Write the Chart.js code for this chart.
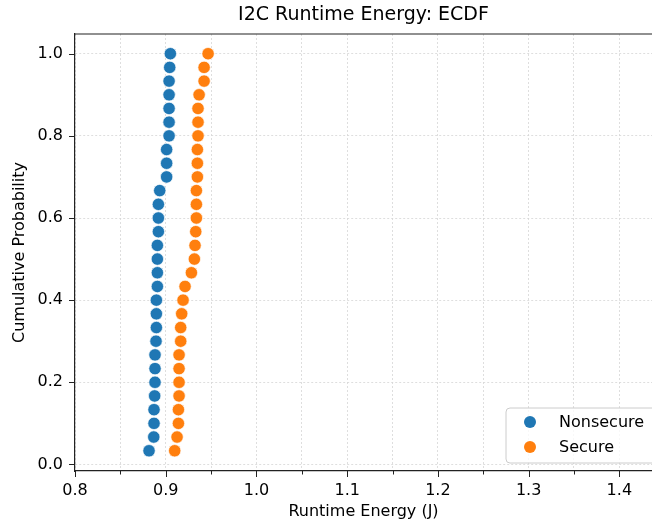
<!DOCTYPE html>
<html>
<head>
<meta charset="utf-8">
<script src="https://cdn.jsdelivr.net/npm/chart.js@4.4.1/dist/chart.umd.min.js"></script>
<style>html,body{margin:0;padding:0;background:#fff;}canvas{display:block;}</style>
</head>
<body>
<canvas id="c" width="652" height="524" style="width:652px;height:524px"></canvas>
<script>
const seriesNames = ['Nonsecure', 'Secure'];
const seriesColors = ['#1f77b4', '#ff7f0e'];
const cumulativeProbability = [
  0.0333, 0.0667, 0.1000, 0.1333, 0.1667, 0.2000, 0.2333, 0.2667, 0.3000, 0.3333,
  0.3667, 0.4000, 0.4333, 0.4667, 0.5000, 0.5333, 0.5667, 0.6000, 0.6333, 0.6667,
  0.7000, 0.7333, 0.7667, 0.8000, 0.8333, 0.8667, 0.9000, 0.9333, 0.9667, 1.0000
];
const nonsecureEnergy = [
  0.8816, 0.8868, 0.8871, 0.8871, 0.8878, 0.8882, 0.8882, 0.8882, 0.8893, 0.8897,
  0.8897, 0.8897, 0.8908, 0.8908, 0.8908, 0.8908, 0.8919, 0.8919, 0.8919, 0.8934,
  0.9010, 0.9010, 0.9010, 0.9037, 0.9037, 0.9037, 0.9037, 0.9037, 0.9044, 0.9051
];
const secureEnergy = [
  0.9099, 0.9125, 0.9140, 0.9140, 0.9147, 0.9147, 0.9147, 0.9147, 0.9165, 0.9165,
  0.9176, 0.9191, 0.9213, 0.9283, 0.9316, 0.9323, 0.9331, 0.9338, 0.9338, 0.9338,
  0.9349, 0.9349, 0.9349, 0.9356, 0.9356, 0.9356, 0.9368, 0.9423, 0.9423, 0.9467
];
const xMajorTicks = [0.8, 0.9, 1.0, 1.1, 1.2, 1.3, 1.4];
const xMinorTicks = [0.85, 0.95, 1.05, 1.15, 1.25, 1.35];
const yTicks = [0.0, 0.2, 0.4, 0.6, 0.8, 1.0];

const FONT = "'DejaVu Sans', 'Liberation Sans', sans-serif";
const xAllTicks = xMajorTicks.concat(xMinorTicks).sort((a, b) => a - b);
const isMajor = v => xMajorTicks.some(m => Math.abs(m - v) < 1e-9);

function toPoints(xs) { return xs.map((v, i) => ({ x: v, y: cumulativeProbability[i] })); }

const chromePlugin = {
  id: 'chrome',
  afterDraw(chart) {
    const { ctx, chartArea: a, scales: { x, y } } = chart;
    ctx.save();
    // top spine
    ctx.strokeStyle = '#222';
    ctx.lineWidth = 1.2;
    ctx.beginPath();
    ctx.moveTo(a.left, a.top);
    ctx.lineTo(a.right + 2, a.top);
    ctx.stroke();
    // tick marks
    ctx.lineWidth = 1;
    ctx.beginPath();
    xAllTicks.forEach(v => {
      const p = Math.round(x.getPixelForValue(v)) + 0.5;
      ctx.moveTo(p, a.bottom);
      ctx.lineTo(p, a.bottom + (isMajor(v) ? 6 : 3.5));
    });
    yTicks.forEach(v => {
      const p = Math.round(y.getPixelForValue(v)) + 0.5;
      ctx.moveTo(a.left, p);
      ctx.lineTo(a.left - 6, p);
    });
    ctx.stroke();
    // legend (inside lower right)
    const lx = 506, ly = 408, lw = 170, lh = 55, r = 4;
    ctx.beginPath();
    ctx.moveTo(lx + r, ly);
    ctx.lineTo(lx + lw - r, ly);
    ctx.arcTo(lx + lw, ly, lx + lw, ly + r, r);
    ctx.lineTo(lx + lw, ly + lh - r);
    ctx.arcTo(lx + lw, ly + lh, lx + lw - r, ly + lh, r);
    ctx.lineTo(lx + r, ly + lh);
    ctx.arcTo(lx, ly + lh, lx, ly + lh - r, r);
    ctx.lineTo(lx, ly + r);
    ctx.arcTo(lx, ly, lx + r, ly, r);
    ctx.closePath();
    ctx.fillStyle = 'rgba(255,255,255,0.8)';
    ctx.fill();
    ctx.strokeStyle = '#cccccc';
    ctx.lineWidth = 1;
    ctx.stroke();
    chart.data.datasets.forEach((ds, i) => {
      const cy = 422 + i * 25;
      ctx.beginPath();
      ctx.arc(530, cy, 6, 0, Math.PI * 2);
      ctx.fillStyle = ds.backgroundColor;
      ctx.fill();
      ctx.fillStyle = '#000';
      ctx.font = '16px ' + FONT;
      ctx.textAlign = 'left';
      ctx.textBaseline = 'middle';
      ctx.fillText(ds.label, 559, cy + 1);
    });
    ctx.restore();
  }
};

new Chart(document.getElementById('c'), {
  type: 'scatter',
  data: {
    datasets: [
      { label: seriesNames[0], data: toPoints(nonsecureEnergy), backgroundColor: seriesColors[0],
        borderColor: 'rgba(255,255,255,0.9)', borderWidth: 0.75, pointRadius: 6.2, pointHoverRadius: 6.2 },
      { label: seriesNames[1], data: toPoints(secureEnergy), backgroundColor: seriesColors[1],
        borderColor: 'rgba(255,255,255,0.9)', borderWidth: 0.75, pointRadius: 6.2, pointHoverRadius: 6.2 }
    ]
  },
  options: {
    responsive: false,
    animation: false,
    devicePixelRatio: 1,
    layout: { padding: 0, autoPadding: false },
    plugins: {
      legend: { display: false },
      tooltip: { enabled: false },
      title: {
        display: true, text: 'I2C Runtime Energy: ECDF', fullSize: false,
        color: '#000', font: { family: FONT, size: 19, weight: 'normal' },
        padding: { top: 4, bottom: 7.2 }
      }
    },
    scales: {
      x: {
        type: 'linear', min: 0.8, max: 1.436,
        afterBuildTicks: s => { s.ticks = xAllTicks.map(v => ({ value: v })); },
        afterFit: s => { s.height = 53; s.paddingLeft = 0; s.paddingRight = 0; },
        ticks: {
          autoSkip: false, maxRotation: 0, padding: 10, color: '#000',
          font: { family: FONT, size: 16 },
          callback: v => isMajor(v) ? v.toFixed(1) : ''
        },
        grid: { color: '#d6d6d6', lineWidth: 0.8, drawTicks: false },
        border: { display: true, color: '#222', width: 1.2, dash: [2, 2] },
        title: { display: true, text: 'Runtime Energy (J)', color: '#000',
          font: { family: FONT, size: 16 }, padding: { top: 0, bottom: 2.4 } }
      },
      y: {
        type: 'linear', min: -0.016, max: 1.048,
        afterBuildTicks: s => { s.ticks = yTicks.map(v => ({ value: v })); },
        afterFit: s => { s.width = 75; s.paddingTop = 0; s.paddingBottom = 0; },
        ticks: {
          padding: 12, color: '#000', font: { family: FONT, size: 16 },
          callback: v => Number(v).toFixed(1)
        },
        grid: { color: '#d6d6d6', lineWidth: 0.8, drawTicks: false },
        border: { display: true, color: '#222', width: 1.2, dash: [2, 2] },
        title: { display: true, text: 'Cumulative Probability', color: '#000',
          font: { family: FONT, size: 16 }, padding: { top: 10, bottom: 0 } }
      }
    }
  },
  plugins: [chromePlugin]
});
</script>
</body>
</html>
